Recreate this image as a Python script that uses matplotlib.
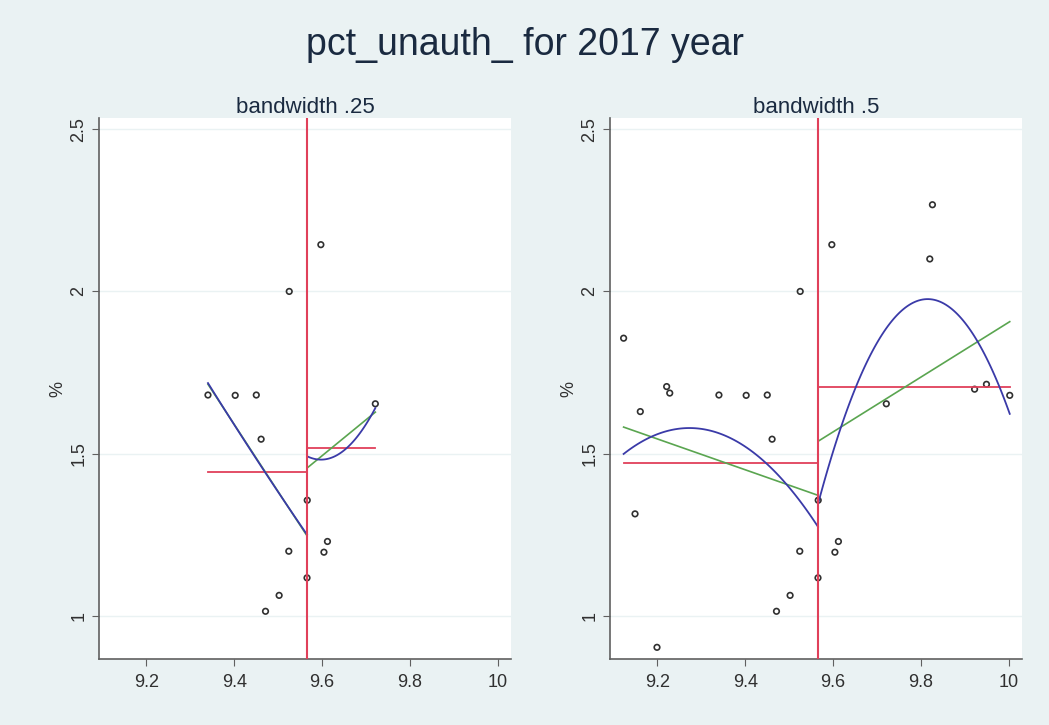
import numpy as np
import matplotlib.pyplot as plt

# running variable (log) and outcome
x_vals = [9.123, 9.149, 9.161, 9.199, 9.221, 9.228, 9.340, 9.402, 9.450, 9.461,
          9.471, 9.502, 9.524, 9.525, 9.5655, 9.566, 9.597, 9.604, 9.612, 9.721,
          9.820, 9.826, 9.922, 9.949, 10.002]
y_vals = [1.856, 1.315, 1.630, 0.904, 1.707, 1.687, 1.681, 1.680, 1.681, 1.545,
          1.015, 1.064, 1.200, 2.000, 1.118, 1.357, 2.144, 1.197, 1.230, 1.654,
          2.100, 2.267, 1.699, 1.714, 1.680]
cutoff = 9.566
bandwidths = [0.25, 0.5]
panel_titles = ["bandwidth .25", "bandwidth .5"]
y_ticks = [1, 1.5, 2, 2.5]
y_ticklabels = ["1", "1.5", "2", "2.5"]
x_ticks = [9.2, 9.4, 9.6, 9.8, 10]
x_ticklabels = ["9.2", "9.4", "9.6", "9.8", "10"]

bg = "#eaf2f3"
red = "#e0405a"
blue = "#3a3aa8"
green = "#5aa550"

plt.rcParams['font.family'] = ['Liberation Sans', 'DejaVu Sans']

x = np.array(x_vals)
y = np.array(y_vals)

fig = plt.figure(figsize=(10.49, 7.25), dpi=100, facecolor=bg)
fig.text(0.5, 0.938, "pct_unauth_ for 2017 year", ha="center", va="center",
         fontsize=27, color="#1a2a40")

lefts = [0.0944, 0.5815]
for i, bw in enumerate(bandwidths):
    ax = fig.add_axes([lefts[i], 0.091, 0.3928, 0.7462])
    ax.set_facecolor("white")
    ax.set_xlim(9.092, 10.03)
    ax.set_ylim(0.868, 2.534)
    ax.set_yticks(y_ticks)
    ax.set_yticklabels(y_ticklabels, rotation=90, va="center")
    ax.set_xticks(x_ticks)
    ax.set_xticklabels(x_ticklabels)
    ax.grid(axis="y", color=bg, lw=1)
    ax.set_axisbelow(True)
    for s in ["top", "right"]:
        ax.spines[s].set_visible(False)
    for s in ["left", "bottom"]:
        ax.spines[s].set_color("#606060")
        ax.spines[s].set_linewidth(1.2)
    ax.tick_params(colors="#606060", labelcolor="#303030", labelsize=13, length=5)
    ax.tick_params(axis="x", pad=6)
    ax.set_ylabel("%", fontsize=13, color="#303030", labelpad=3)
    ax.set_title(panel_titles[i], fontsize=16, color="#1a2a40", pad=3)

    inside = (x >= cutoff - bw) & (x <= cutoff + bw)
    ax.scatter(x[inside], y[inside], s=16, facecolors="none", edgecolors="#303030",
               linewidths=1.2, zorder=3)

    for side in [x < cutoff, x >= cutoff]:
        sel = inside & side
        xs, ys = x[sel], y[sel]
        grid = np.linspace(xs.min(), xs.max(), 100)
        ax.plot([xs.min(), xs.max()], [ys.mean(), ys.mean()], color=red, lw=1.3, zorder=4)
        ax.plot(grid, np.polyval(np.polyfit(xs, ys, 1), grid), color=green, lw=1.2, zorder=4)
        ax.plot(grid, np.polyval(np.polyfit(xs, ys, 2), grid), color=blue, lw=1.3, zorder=5)

    ax.axvline(cutoff, color=red, lw=1.5, zorder=6)

fig.savefig("out.png", dpi=100, facecolor=bg)
